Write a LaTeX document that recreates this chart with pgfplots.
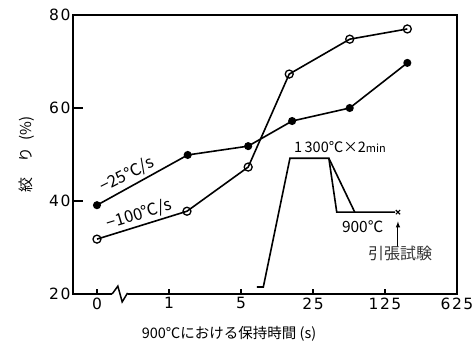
\documentclass[border=0pt]{standalone}
\usepackage{pgfplots}
\pgfplotsset{compat=1.18}
\usepackage{fontspec}
\setmainfont{DejaVu Sans}
\newfontfamily\tickfont[LetterSpace=10]{DejaVu Sans}
\newfontfamily\jp{Noto Sans CJK JP}
\begin{document}
\begin{tikzpicture}
\begin{axis}[
  scale only axis, width=384pt, height=279pt,
  xmin=-0.333, xmax=5, ymin=20, ymax=80,
  axis line style={line width=1.5pt},
  xtick={0,1,2,3,4,5}, xticklabels={0,1,5,25,125,625},
  ytick={20,40,60,80},
  tick align=inside, tick style={line width=1.2pt, black},
  xtick style={/pgfplots/major tick length=5pt},
  ytick style={/pgfplots/major tick length=10pt},
  xtick pos=bottom, ytick pos=left,
  tick label style={font=\tickfont\fontsize{15.5}{16}\selectfont},
  yticklabel style={xshift=1pt},
  /pgf/number format/assume math mode=true,
  xlabel={\jp\fontsize{14.5}{15}\selectfont 900℃における保持時間 (s)},
  ylabel={\jp\fontsize{15}{16}\selectfont 絞\quad り\ \ (\%)},
  xlabel style={yshift=-10pt, xshift=-36pt},
  ylabel style={yshift=8pt},
  clip=false,
]
% -25 C/s
\addplot[black, line width=1.6pt, mark=*, mark size=3.2pt] coordinates {
 (0,39.1) (1.26,49.9) (2.10,51.8) (2.71,57.2) (3.51,60.0) (4.31,69.7)};
% -100 C/s
\addplot[black, line width=1.6pt, mark=o, mark size=4pt, mark options={fill=white, line width=1.3pt}] coordinates {
 (0,31.8) (1.25,37.8) (2.10,47.3) (2.67,67.3) (3.51,74.8) (4.31,77.0)};
% axis break
\addplot[white, line width=3.5pt, forget plot] coordinates {(0.21,20) (0.43,20)};
\addplot[black, line width=1.5pt, forget plot] coordinates {(0.20,20) (0.22,20.2) (0.29,21.7) (0.35,18.3) (0.42,20.1) (0.44,20)};
% heat treatment inset
\addplot[black, line width=1.6pt, forget plot] coordinates {
 (2.22,21.5) (2.31,21.5) (2.33,23.0) (2.68,49.2) (3.22,49.2) (3.33,37.6) (4.14,37.6)};
\addplot[black, line width=1.6pt, forget plot] coordinates {(3.22,49.2) (3.58,37.6)};
\addplot[black, only marks, mark=x, mark size=3pt, mark options={line width=1.2pt}, forget plot] coordinates {(4.18,37.6)};
\addplot[black, line width=1pt, -latex, forget plot] coordinates {(4.18,30.2) (4.18,35.6)};
\node[rotate=27, inner sep=0pt] at (axis cs:0.42,45.6) {\jp\fontsize{16.5}{17}\selectfont −25℃/s};
\node[rotate=17, inner sep=0pt] at (axis cs:0.59,37.1) {\jp\fontsize{16.5}{17}\selectfont −100℃/s};
\node at (axis cs:3.375,51.6) {\jp\fontsize{14.5}{15}\selectfont 1\,300℃×2{\fontsize{11}{12}\selectfont min}};
\node at (axis cs:3.69,34.4) {\jp\fontsize{15.5}{16}\selectfont 900℃};
\node[text=black!80] at (axis cs:4.21,28.8) {\jp\fontsize{16}{17}\selectfont 引張試験};
\end{axis}
\pgfresetboundingbox
\useasboundingbox ([shift={(-73pt,-57pt)}]current axis.south west) rectangle ([shift={(16pt,15pt)}]current axis.north east);
\end{tikzpicture}
\end{document}
